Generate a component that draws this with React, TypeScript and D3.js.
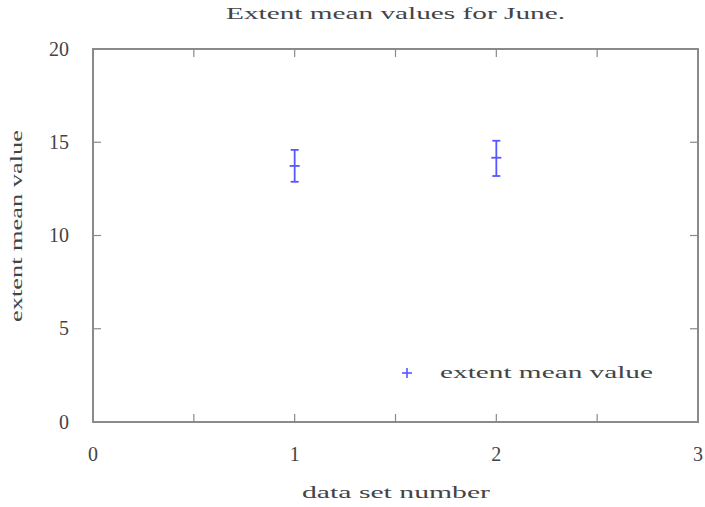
import React from "react";
import * as d3 from "d3";

const dataSets = [1, 2];
const meanValues = [13.73, 14.17];
const lowValues = [12.88, 13.19];
const highValues = [14.59, 15.08];
const xTickLabels = [0, 1, 2, 3];
const xTickMarks = [0.5, 1, 1.5, 2, 2.5];
const yTickLabels = [0, 5, 10, 15, 20];

const W = 705;
const H = 507;
const M = { left: 93, right: 698, top: 49, bottom: 422 };
const FONT = "'Liberation Serif', 'DejaVu Serif', serif";
const AXIS = "#8a8a8a";
const BLUE = "#3a3aff";
const TEXT = "#444";

export default function App() {
  const x = d3.scaleLinear().domain([0, 3]).range([M.left, M.right]);
  const y = d3.scaleLinear().domain([0, 20]).range([M.bottom, M.top]);
  const tl = 8;
  const cap = 4;
  const cross = 5;

  return (
    <svg
      width={W}
      height={H}
      style={{ position: "absolute", left: 0, top: 0, background: "#fff" }}
      fontFamily={FONT}
    >
      <text
        x={226}
        y={19}
        fontSize={16}
        fill={TEXT}
        textLength={339}
        lengthAdjust="spacingAndGlyphs"
      >
        Extent mean values for June.
      </text>

      <rect
        x={M.left}
        y={M.top}
        width={M.right - M.left}
        height={M.bottom - M.top}
        fill="none"
        stroke={AXIS}
        strokeWidth={2}
      />

      {xTickMarks.map((t) => (
        <g key={"xt" + t}>
          <line x1={x(t)} x2={x(t)} y1={M.bottom} y2={M.bottom - tl} stroke={AXIS} strokeWidth={1.2} />
          <line x1={x(t)} x2={x(t)} y1={M.top} y2={M.top + tl} stroke={AXIS} strokeWidth={1.2} />
        </g>
      ))}
      {xTickLabels.map((t) => (
        <text key={"xl" + t} x={x(t)} y={461} textAnchor="middle" fontSize={20} fill={TEXT}>
          {t}
        </text>
      ))}

      {yTickLabels.map((t) => (
        <g key={"yt" + t}>
          <line x1={M.left} x2={M.left + tl} y1={y(t)} y2={y(t)} stroke={AXIS} strokeWidth={1.2} />
          <line x1={M.right} x2={M.right - tl} y1={y(t)} y2={y(t)} stroke={AXIS} strokeWidth={1.2} />
          <text x={69} y={y(t) + 6.5} textAnchor="end" fontSize={20} fill={TEXT}>
            {t}
          </text>
        </g>
      ))}

      <text
        transform={`translate(22, 322) rotate(-90)`}
        fontSize={16}
        fill={TEXT}
        textLength={192}
        lengthAdjust="spacingAndGlyphs"
      >
        extent mean value
      </text>
      <text
        x={302}
        y={498}
        fontSize={16}
        fill={TEXT}
        textLength={188}
        lengthAdjust="spacingAndGlyphs"
      >
        data set number
      </text>

      {dataSets.map((d, i) => (
        <g key={"p" + d} stroke={BLUE} strokeWidth={1.8} opacity={0.85}>
          <line x1={x(d)} x2={x(d)} y1={y(lowValues[i])} y2={y(highValues[i])} />
          <line x1={x(d) - cap} x2={x(d) + cap} y1={y(lowValues[i])} y2={y(lowValues[i])} />
          <line x1={x(d) - cap} x2={x(d) + cap} y1={y(highValues[i])} y2={y(highValues[i])} />
          <line x1={x(d) - cross} x2={x(d) + cross} y1={y(meanValues[i])} y2={y(meanValues[i])} />
        </g>
      ))}

      <g stroke={BLUE} strokeWidth={1.6} opacity={0.85}>
        <line x1={402} x2={412} y1={373} y2={373} />
        <line x1={407} x2={407} y1={368} y2={378} />
      </g>
      <text
        x={440}
        y={378}
        fontSize={16}
        fill={TEXT}
        textLength={213}
        lengthAdjust="spacingAndGlyphs"
      >
        extent mean value
      </text>
    </svg>
  );
}
